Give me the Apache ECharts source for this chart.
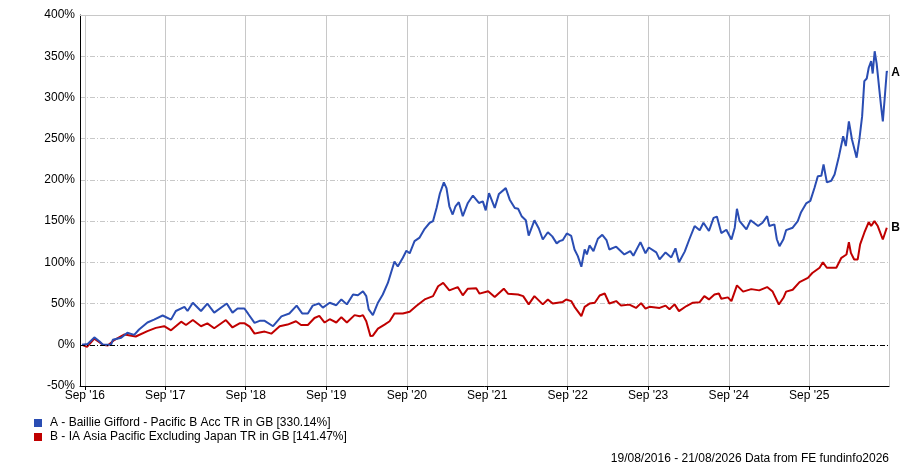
<!DOCTYPE html>
<html>
<head>
<meta charset="utf-8">
<script src="https://cdn.jsdelivr.net/npm/echarts@6/dist/echarts.min.js"></script>
<style>
  html, body { margin: 0; padding: 0; background: #fff; }
  #chart { width: 900px; height: 467px; }
</style>
</head>
<body>
<div id="chart"></div>
<script>
  // 刻度：每年 9 月 1 日
  var tickDates = ['2016-09-01', '2017-09-01', '2018-09-01', '2019-09-01', '2020-09-01',
    '2021-09-01', '2022-09-01', '2023-09-01', '2024-09-01', '2025-09-01'];
  var monthNames = ['Jan', 'Feb', 'Mar', 'Apr', 'May', 'Jun', 'Jul', 'Aug', 'Sep', 'Oct', 'Nov', 'Dec'];

  var fundName = 'A - Baillie Gifford - Pacific B Acc TR in GB [330.14%]';
  var sectorName = 'B - IA Asia Pacific Excluding Japan TR in GB [141.47%]';

  // A - 基金
  var fundDates = ['2016-08-19', '2016-09-14', '2016-10-14', '2016-11-07', '2016-11-22', '2016-12-29',
    '2017-01-06', '2017-02-13', '2017-03-13', '2017-04-13', '2017-05-05', '2017-06-12', '2017-07-12',
    '2017-08-20', '2017-09-27', '2017-10-19', '2017-11-27', '2017-12-11', '2018-01-04', '2018-02-10',
    '2018-03-11', '2018-04-11', '2018-06-07', '2018-07-03', '2018-07-26', '2018-08-26', '2018-09-11',
    '2018-10-11', '2018-11-03', '2018-11-26', '2019-01-03', '2019-02-10', '2019-03-18', '2019-04-20',
    '2019-05-15', '2019-06-10', '2019-07-02', '2019-07-30', '2019-08-17', '2019-09-17', '2019-10-17',
    '2019-11-09', '2019-12-04', '2020-01-01', '2020-01-23', '2020-02-15', '2020-03-01', '2020-03-12',
    '2020-03-31', '2020-04-23', '2020-05-15', '2020-06-07', '2020-07-07', '2020-07-22', '2020-08-14',
    '2020-08-30', '2020-09-14', '2020-10-06', '2020-10-29', '2020-11-21', '2020-12-14', '2020-12-29',
    '2021-01-14', '2021-01-29', '2021-02-16', '2021-02-28', '2021-03-13', '2021-03-28', '2021-04-10',
    '2021-04-25', '2021-05-13', '2021-06-05', '2021-06-28', '2021-07-25', '2021-08-12', '2021-08-25',
    '2021-09-09', '2021-10-05', '2021-10-24', '2021-11-24', '2021-12-12', '2022-01-04', '2022-01-19',
    '2022-02-04', '2022-02-23', '2022-03-08', '2022-04-03', '2022-04-23', '2022-05-11', '2022-06-03',
    '2022-06-23', '2022-07-13', '2022-07-26', '2022-08-10', '2022-08-28', '2022-09-17', '2022-10-02',
    '2022-10-17', '2022-11-02', '2022-11-17', '2022-11-27', '2022-12-09', '2022-12-27', '2023-01-16',
    '2023-02-05', '2023-02-24', '2023-03-09', '2023-04-09', '2023-05-16', '2023-06-12', '2023-06-26',
    '2023-07-28', '2023-08-20', '2023-09-04', '2023-10-08', '2023-10-23', '2023-11-19', '2023-12-15',
    '2024-01-03', '2024-01-19', '2024-02-14', '2024-03-07', '2024-03-30', '2024-04-22', '2024-05-09',
    '2024-06-03', '2024-06-24', '2024-07-09', '2024-07-29', '2024-08-21', '2024-09-13', '2024-09-28',
    '2024-10-08', '2024-10-20', '2024-11-20', '2024-12-09', '2025-01-12', '2025-02-01', '2025-02-22',
    '2025-03-04', '2025-03-27', '2025-04-07', '2025-04-19', '2025-05-07', '2025-05-19', '2025-06-18',
    '2025-07-11', '2025-07-26', '2025-08-18', '2025-09-06', '2025-09-25', '2025-10-10', '2025-10-26',
    '2025-11-05', '2025-11-20', '2025-12-10', '2025-12-25', '2026-01-14', '2026-02-02', '2026-02-14',
    '2026-02-28', '2026-03-14', '2026-04-04', '2026-04-17', '2026-04-29', '2026-05-09', '2026-05-20',
    '2026-05-29', '2026-06-09', '2026-06-16', '2026-06-25', '2026-07-04', '2026-07-16', '2026-07-24',
    '2026-08-01', '2026-08-09', '2026-08-19', '2026-08-21'];
  var fundValues = [0, 1, 9, 4, 0, 0,
    6, 8.5, 14.5, 12, 18.5, 27, 30.5,
    35.5, 30.5, 41, 46, 41, 51, 41,
    50, 39, 50, 39, 44, 44, 38,
    26.5, 29, 29, 22.5, 34.5, 38, 47.5,
    38, 38, 47.5, 50, 45, 51, 48,
    55, 49, 61, 60, 65, 59, 43,
    36, 51, 61, 75, 101, 95, 105.5,
    114, 111, 125.7, 130, 140.7, 148, 150,
    166, 183.5, 197, 190, 168, 158, 168,
    173, 156, 172, 181, 172, 174, 163,
    184, 166, 183, 190, 176, 166, 165,
    156, 151, 132.5, 151, 141, 127.7, 136.5,
    131.5, 123, 125.7, 127, 135, 132, 115.6,
    107.5, 94.6, 115.6, 109.6, 120.5, 113.6, 128.6,
    133.4, 127, 115.6, 119, 109.6, 113.6, 108,
    124.5, 111, 118, 112, 103.5, 112, 106,
    117, 100, 113, 128.6, 144, 139, 148,
    138, 154, 155.5, 135.5, 139.5, 127.7, 142,
    165, 150, 140, 151, 144, 148, 156,
    144, 146, 128, 119.6, 128, 139, 142,
    150, 160.8, 171.4, 174.5, 190.4, 204.5, 205,
    218.7, 197, 199, 206.5, 228.8, 253, 241,
    271, 249, 227, 250, 277, 319.8, 323,
    336, 344, 329, 356, 341, 309.7, 289.4,
    271, 297.5, 332, 330.14];

  // B - 行业平均
  var sectorDates = ['2016-08-19', '2016-09-11', '2016-10-14', '2016-11-22', '2016-12-14', '2017-01-14',
    '2017-02-28', '2017-04-20', '2017-06-12', '2017-07-20', '2017-08-27', '2017-09-27', '2017-11-12',
    '2017-12-04', '2018-01-04', '2018-02-10', '2018-03-11', '2018-04-11', '2018-06-03', '2018-07-03',
    '2018-08-04', '2018-08-27', '2018-09-19', '2018-10-11', '2018-11-03', '2018-11-26', '2018-12-26',
    '2019-02-02', '2019-03-10', '2019-04-17', '2019-05-10', '2019-06-10', '2019-07-10', '2019-08-01',
    '2019-08-25', '2019-09-17', '2019-10-17', '2019-11-09', '2019-12-04', '2020-01-08', '2020-01-31',
    '2020-02-15', '2020-03-01', '2020-03-20', '2020-03-31', '2020-04-23', '2020-05-23', '2020-06-15',
    '2020-07-07', '2020-08-14', '2020-09-14', '2020-10-14', '2020-11-21', '2020-12-29', '2021-01-21',
    '2021-02-13', '2021-03-13', '2021-04-20', '2021-05-13', '2021-06-05', '2021-07-13', '2021-07-28',
    '2021-09-05', '2021-10-05', '2021-11-15', '2021-12-04', '2022-01-19', '2022-02-11', '2022-03-08',
    '2022-04-03', '2022-05-11', '2022-06-03', '2022-06-25', '2022-08-10', '2022-08-25', '2022-09-17',
    '2022-10-02', '2022-11-02', '2022-11-17', '2022-12-09', '2023-01-02', '2023-01-24', '2023-02-16',
    '2023-03-09', '2023-04-09', '2023-05-01', '2023-06-08', '2023-07-08', '2023-07-31', '2023-08-20',
    '2023-09-07', '2023-10-23', '2023-11-19', '2023-12-07', '2023-12-30', '2024-01-19', '2024-02-22',
    '2024-03-22', '2024-04-22', '2024-05-13', '2024-06-03', '2024-06-28', '2024-07-18', '2024-07-29',
    '2024-08-28', '2024-09-13', '2024-10-08', '2024-11-05', '2024-12-12', '2025-01-17', '2025-02-22',
    '2025-03-19', '2025-04-16', '2025-05-07', '2025-05-19', '2025-06-18', '2025-07-19', '2025-08-26',
    '2025-09-15', '2025-10-18', '2025-11-02', '2025-11-20', '2026-01-02', '2026-01-25', '2026-02-17',
    '2026-02-28', '2026-03-09', '2026-03-24', '2026-04-09', '2026-04-20', '2026-05-09', '2026-05-29',
    '2026-06-09', '2026-06-24', '2026-07-09', '2026-08-01', '2026-08-19', '2026-08-21'];
  var sectorValues = [0, -2.5, 7.5, 0, -1, 6,
    12.5, 10, 16.5, 20.5, 22.5, 17.5, 28,
    24, 30, 22.5, 26, 20, 30, 21,
    26, 26, 22, 13.5, 15, 16, 13.5,
    22.5, 24.5, 28.5, 24, 24, 32.5, 35,
    27, 31, 27, 33.5, 27, 36, 34.5,
    36, 28.5, 10.5, 11, 19.5, 24.5, 28.5,
    38, 38, 40, 47, 55, 59, 71,
    75, 66, 70, 60, 68, 68.5, 62,
    65, 58, 68, 62, 61, 59, 49,
    59, 49, 55, 50, 52, 55, 53,
    46, 34.7, 46, 50, 51, 59.8, 62.2,
    50, 53, 47.5, 48.7, 44.7, 50.5, 43.8,
    46, 44.7, 47.5, 43, 49, 40.8, 47,
    51, 51.7, 59, 55, 61, 62.2, 55.8,
    57.5, 53, 72, 64.5, 67.5, 66, 70,
    64.5, 48.9, 57, 64.5, 66.7, 76, 81.2,
    87, 93.4, 100, 93.4, 93.4, 105.5, 109.5,
    124.5, 111.5, 103.5, 103.5, 121.7, 135.9, 148.8,
    144, 150, 144, 127.7, 142, 141.47];

  function toPairs(dates, values) {
    var out = [];
    for (var i = 0; i < dates.length; i++) {
      out.push([Date.parse(dates[i]), values[i]]);
    }
    return out;
  }

  var tickValues = tickDates.map(function (d) { return Date.parse(d); });
  var xMin = Date.parse('2016-08-10');
  var xMax = Date.parse('2026-08-29');
  var fontName = 'Liberation Sans, Arial, sans-serif';

  var chart = echarts.init(document.getElementById('chart'));

  var option = {
    animation: false,
    backgroundColor: '#ffffff',
    textStyle: { fontFamily: fontName },
    title: {
      text: '19/08/2016 - 21/08/2026 Data from FE fundinfo2026',
      right: 11,
      bottom: 2,
      padding: 0,
      textStyle: { fontSize: 12, fontWeight: 'normal', color: '#000', fontFamily: fontName }
    },
    legend: {
      orient: 'vertical',
      left: 34,
      top: 417,
      padding: 0,
      itemWidth: 8,
      itemHeight: 8,
      itemGap: 2,
      icon: 'rect',
      textStyle: { fontSize: 12, color: '#000', fontFamily: fontName, padding: [0, 0, 0, 3] },
      data: [fundName, sectorName]
    },
    grid: { left: 80, right: 11, top: 15, bottom: 81 },
    xAxis: [{
      type: 'value',
      min: xMin,
      max: xMax,
      axisLine: { onZero: false, lineStyle: { color: '#000', width: 1 } },
      axisTick: { show: true, length: 4, customValues: tickValues, lineStyle: { color: '#000' } },
      axisLabel: {
        customValues: tickValues,
        color: '#000',
        fontSize: 12,
        margin: 4,
        formatter: function (v) {
          var d = new Date(v);
          return monthNames[d.getUTCMonth()] + " '" + String(d.getUTCFullYear()).slice(2);
        }
      },
      splitLine: { show: true, lineStyle: { color: '#c8c8c8', width: 1, type: 'solid' } }
    }, {
      type: 'value',
      position: 'top',
      min: xMin,
      max: xMax,
      axisLine: { show: true, onZero: false, lineStyle: { color: '#c8c8c8' } },
      axisTick: { show: false },
      axisLabel: { show: false },
      splitLine: { show: false }
    }],
    yAxis: [{
      type: 'value',
      min: -50,
      max: 400,
      interval: 50,
      axisLine: { show: true, onZero: false, lineStyle: { color: '#000', width: 1 } },
      axisTick: { show: false },
      axisLabel: { color: '#000', fontSize: 12, margin: 5, formatter: '{value}%' },
      splitLine: { show: true, lineStyle: { color: '#c8c8c8', width: 1, type: [5, 2, 1, 2] } }
    }, {
      type: 'value',
      position: 'right',
      min: -50,
      max: 400,
      interval: 50,
      axisLine: { show: true, onZero: false, lineStyle: { color: '#c8c8c8' } },
      axisTick: { show: false },
      axisLabel: { show: false },
      splitLine: { show: false }
    }],
    series: [{
      name: sectorName,
      type: 'line',
      symbol: 'none',
      data: toPairs(sectorDates, sectorValues),
      lineStyle: { width: 2, color: '#c00000' },
      itemStyle: { color: '#c00000' },
      endLabel: { show: true, formatter: 'B', color: '#000', fontWeight: 'bold', fontSize: 12, distance: 4 },
      markLine: {
        silent: true,
        symbol: 'none',
        label: { show: false },
        lineStyle: { color: '#000', width: 1, type: [5, 2, 1, 2] },
        data: [{ yAxis: 0 }]
      },
      z: 3
    }, {
      name: fundName,
      type: 'line',
      symbol: 'none',
      data: toPairs(fundDates, fundValues),
      lineStyle: { width: 2, color: '#2a4db3' },
      itemStyle: { color: '#2a4db3' },
      endLabel: { show: true, formatter: 'A', color: '#000', fontWeight: 'bold', fontSize: 12, distance: 4 },
      z: 4
    }]
  };

  chart.setOption(option);
</script>
</body>
</html>
